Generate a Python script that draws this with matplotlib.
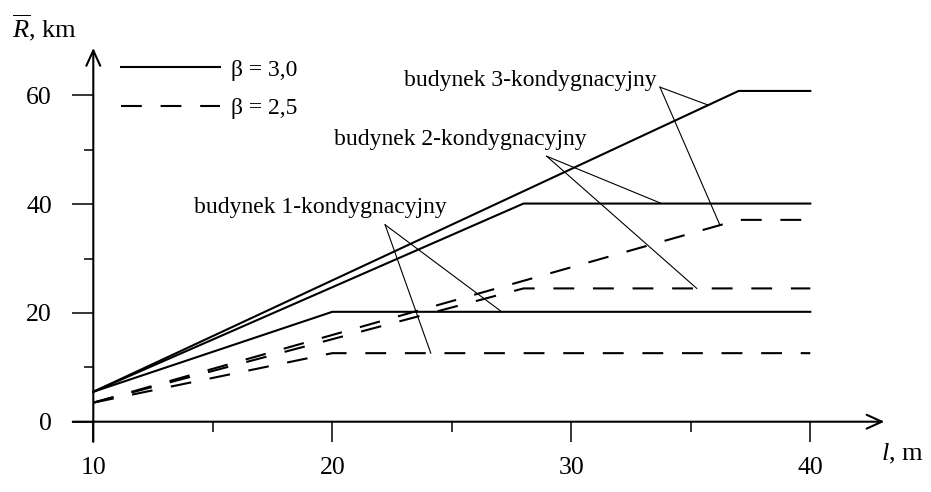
import numpy as np
import matplotlib
matplotlib.use("Agg")
import matplotlib.pyplot as plt

plt.rcParams['font.family'] = ['Liberation Serif', 'DejaVu Serif']
plt.rcParams['mathtext.fontset'] = 'custom'
plt.rcParams['mathtext.rm'] = 'Liberation Serif'
plt.rcParams['mathtext.it'] = 'Liberation Serif:italic'

# ---- data ----
l_1 = [10, 20, 40]
l_2 = [10, 28, 40]
l_3 = [10, 37, 40]
R_beta30_1 = [5.5, 20.2, 20.2]
R_beta30_2 = [5.5, 40.1, 40.1]
R_beta30_3 = [5.5, 60.8, 60.8]
R_beta25_1 = [3.5, 12.6, 12.6]
R_beta25_2 = [3.5, 24.5, 24.5]
R_beta25_3 = [3.5, 37.1, 37.1]

xticks_major = [10, 20, 30, 40]
xticks_minor = [15, 25, 35]
yticks_major = [0, 20, 40, 60]
yticks_minor = [10, 30, 50]

building_labels = ['budynek 1-kondygnacyjny', 'budynek 2-kondygnacyjny',
                   'budynek 3-kondygnacyjny']
label_pos_l = [19.49, 25.34, 28.27]
label_pos_R = [38.4, 50.9, 61.8]
leader_origin_l = [22.21, 28.97, 33.71]
leader_origin_R = [36.2, 48.8, 61.5]
leader_solid_l = [27.09, 33.78, 35.73]
leader_dashed_l = [24.12, 35.25, 36.22]

# ---- figure ----
fig = plt.figure(figsize=(9.31, 4.92), dpi=100)
ax = fig.add_axes([0, 0, 1, 1])
ax.set_xlim(10 - 93.3 / 23.9, 10 + (931 - 93.3) / 23.9)
ax.set_ylim((421.7 - 492) / 5.44, 421.7 / 5.44)

lw = 1.5
dash = (0, (10, 9))
solid_series = [(l_1, R_beta30_1), (l_2, R_beta30_2), (l_3, R_beta30_3)]
dashed_series = [(l_1, R_beta25_1), (l_2, R_beta25_2), (l_3, R_beta25_3)]
for i, (l, R) in enumerate(solid_series):
    ax.plot(l, R, color='black', lw=lw, solid_joinstyle='miter',
            label='β = 3,0' if i == 0 else None)
for i, (l, R) in enumerate(dashed_series):
    ax.plot(l, R, color='black', lw=lw, linestyle=dash,
            label='β = 2,5' if i == 0 else None)

# leader lines and labels
for k in range(3):
    ls, Rs = solid_series[k]
    ld, Rd = dashed_series[k]
    o = (leader_origin_l[k], leader_origin_R[k])
    ts = (leader_solid_l[k], np.interp(leader_solid_l[k], ls, Rs))
    td = (leader_dashed_l[k], np.interp(leader_dashed_l[k], ld, Rd))
    ax.plot([o[0], ts[0]], [o[1], ts[1]], color='black', lw=0.8)
    ax.plot([o[0], td[0]], [o[1], td[1]], color='black', lw=0.8)
    ax.text(label_pos_l[k], label_pos_R[k], building_labels[k], ha='center',
            va='baseline', fontsize=17)

# axes with arrows
for s in ax.spines.values():
    s.set_visible(False)
ax.spines['left'].set_position(('data', 10))
ax.spines['bottom'].set_position(('data', 0))
arrow = dict(arrowstyle='->,head_length=0.55,head_width=0.25', lw=1.5,
             color='black', mutation_scale=20, shrinkA=0, shrinkB=0)
ax.annotate('', xy=(43.1, 0), xytext=(9.14, 0), arrowprops=arrow)
ax.annotate('', xy=(10, 68.7), xytext=(10, -3.7), arrowprops=arrow)

ax.set_xticks(xticks_major)
ax.set_xticks(xticks_minor, minor=True)
ax.set_yticks(yticks_major)
ax.set_yticks(yticks_minor, minor=True)
ax.set_xticklabels([str(v) for v in xticks_major])
ax.set_yticklabels([str(v) for v in yticks_major])
ax.tick_params(axis='x', which='major', direction='out', length=14.5, width=1.1,
               pad=11, labelsize=18.5)
ax.tick_params(axis='x', which='minor', direction='out', length=7.2, width=1.1)
ax.tick_params(axis='y', which='major', direction='out', length=14.8, width=1.1,
               pad=15, labelsize=18.5)
ax.tick_params(axis='y', which='minor', direction='out', length=6.5, width=1.1)

ax.text(42.95, -6.0, '$l$, m', ha='left', va='center', fontsize=19)
ax.text(7.95, 72.5, r'$\overline{R}$, km', ha='center', va='center', fontsize=19)

leg = ax.legend(loc='upper left', bbox_to_anchor=(121 / 931, 1 - 59 / 492),
                bbox_transform=fig.transFigure, frameon=False, fontsize=17,
                handlelength=4.2, handletextpad=0.45, borderpad=0,
                borderaxespad=0, labelspacing=0.73)

fig.savefig('out.png', dpi=100)
